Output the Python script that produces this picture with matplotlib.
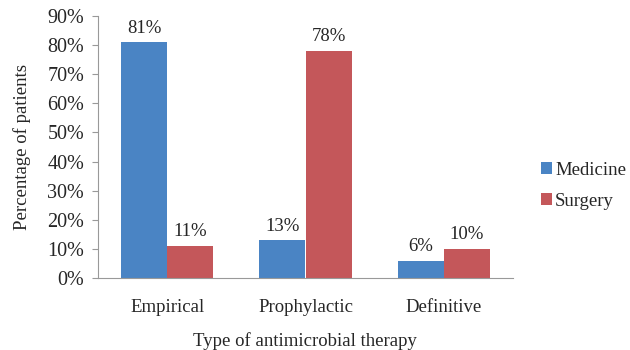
import matplotlib
matplotlib.use("Agg")
import matplotlib.pyplot as plt
import numpy as np
from matplotlib.ticker import PercentFormatter

categories = ["Empirical", "Prophylactic", "Definitive"]
medicine = [81, 13, 6]
surgery = [11, 78, 10]
series_names = ["Medicine", "Surgery"]
yticks = [0, 10, 20, 30, 40, 50, 60, 70, 80, 90]

serif = ["Liberation Serif", "DejaVu Serif"]
plt.rcParams["font.family"] = serif
plt.rcParams["font.size"] = 13.5
text_color = "#262626"
fs = 13.5

fig = plt.figure(figsize=(6.3, 3.5), dpi=100)
ax = fig.add_axes([98 / 630, 1 - 278 / 350, (513 - 98) / 630, (278 - 16) / 350])

x = np.arange(len(categories))
w = 1 / 3
colors = ["#4A84C4", "#C4575A"]
b1 = ax.bar(x - w / 2, medicine, width=w, color=colors[0], label=series_names[0])
b2 = ax.bar(x + w / 2, surgery, width=w, color=colors[1], label=series_names[1])

for bars, vals in ((b1, medicine), (b2, surgery)):
    for rect, v in zip(bars, vals):
        ax.annotate(f"{v}%", (rect.get_x() + rect.get_width() / 2, v),
                    xytext=(0, 4), textcoords="offset points",
                    ha="center", va="bottom", fontsize=fs, color=text_color)

ax.set_xlim(-0.5, len(categories) - 0.5)
ax.set_ylim(0, 90)
ax.set_yticks(yticks)
ax.yaxis.set_major_formatter(PercentFormatter(decimals=0))
ax.set_xticks(x)
ax.set_xticklabels(categories)
ax.tick_params(axis="x", length=0, pad=15, labelsize=fs, labelcolor=text_color)
ax.tick_params(axis="y", length=4, width=0.8, color="#999999", pad=6,
               labelsize=14.5, labelcolor=text_color)

for side in ("top", "right"):
    ax.spines[side].set_visible(False)
for side in ("left", "bottom"):
    ax.spines[side].set_color("#999999")
    ax.spines[side].set_linewidth(0.8)

ax.set_ylabel("Percentage of patients", fontsize=fs, color=text_color, labelpad=12)
fig.text(305 / 630, 1 - 341 / 350, "Type of antimicrobial therapy",
         ha="center", va="center", fontsize=fs, color=text_color)

leg = fig.legend(handles=[b1, b2], labels=series_names, loc="center left",
                 bbox_to_anchor=(541 / 630, 1 - 186 / 350), frameon=False,
                 handlelength=0.6, handleheight=0.6, handletextpad=0.15,
                 labelspacing=0.75, borderaxespad=0, borderpad=0,
                 prop={"family": serif, "size": fs})
for t in leg.get_texts():
    t.set_color(text_color)
    t.set_fontfamily(serif)

fig.savefig("out.png", dpi=100)
